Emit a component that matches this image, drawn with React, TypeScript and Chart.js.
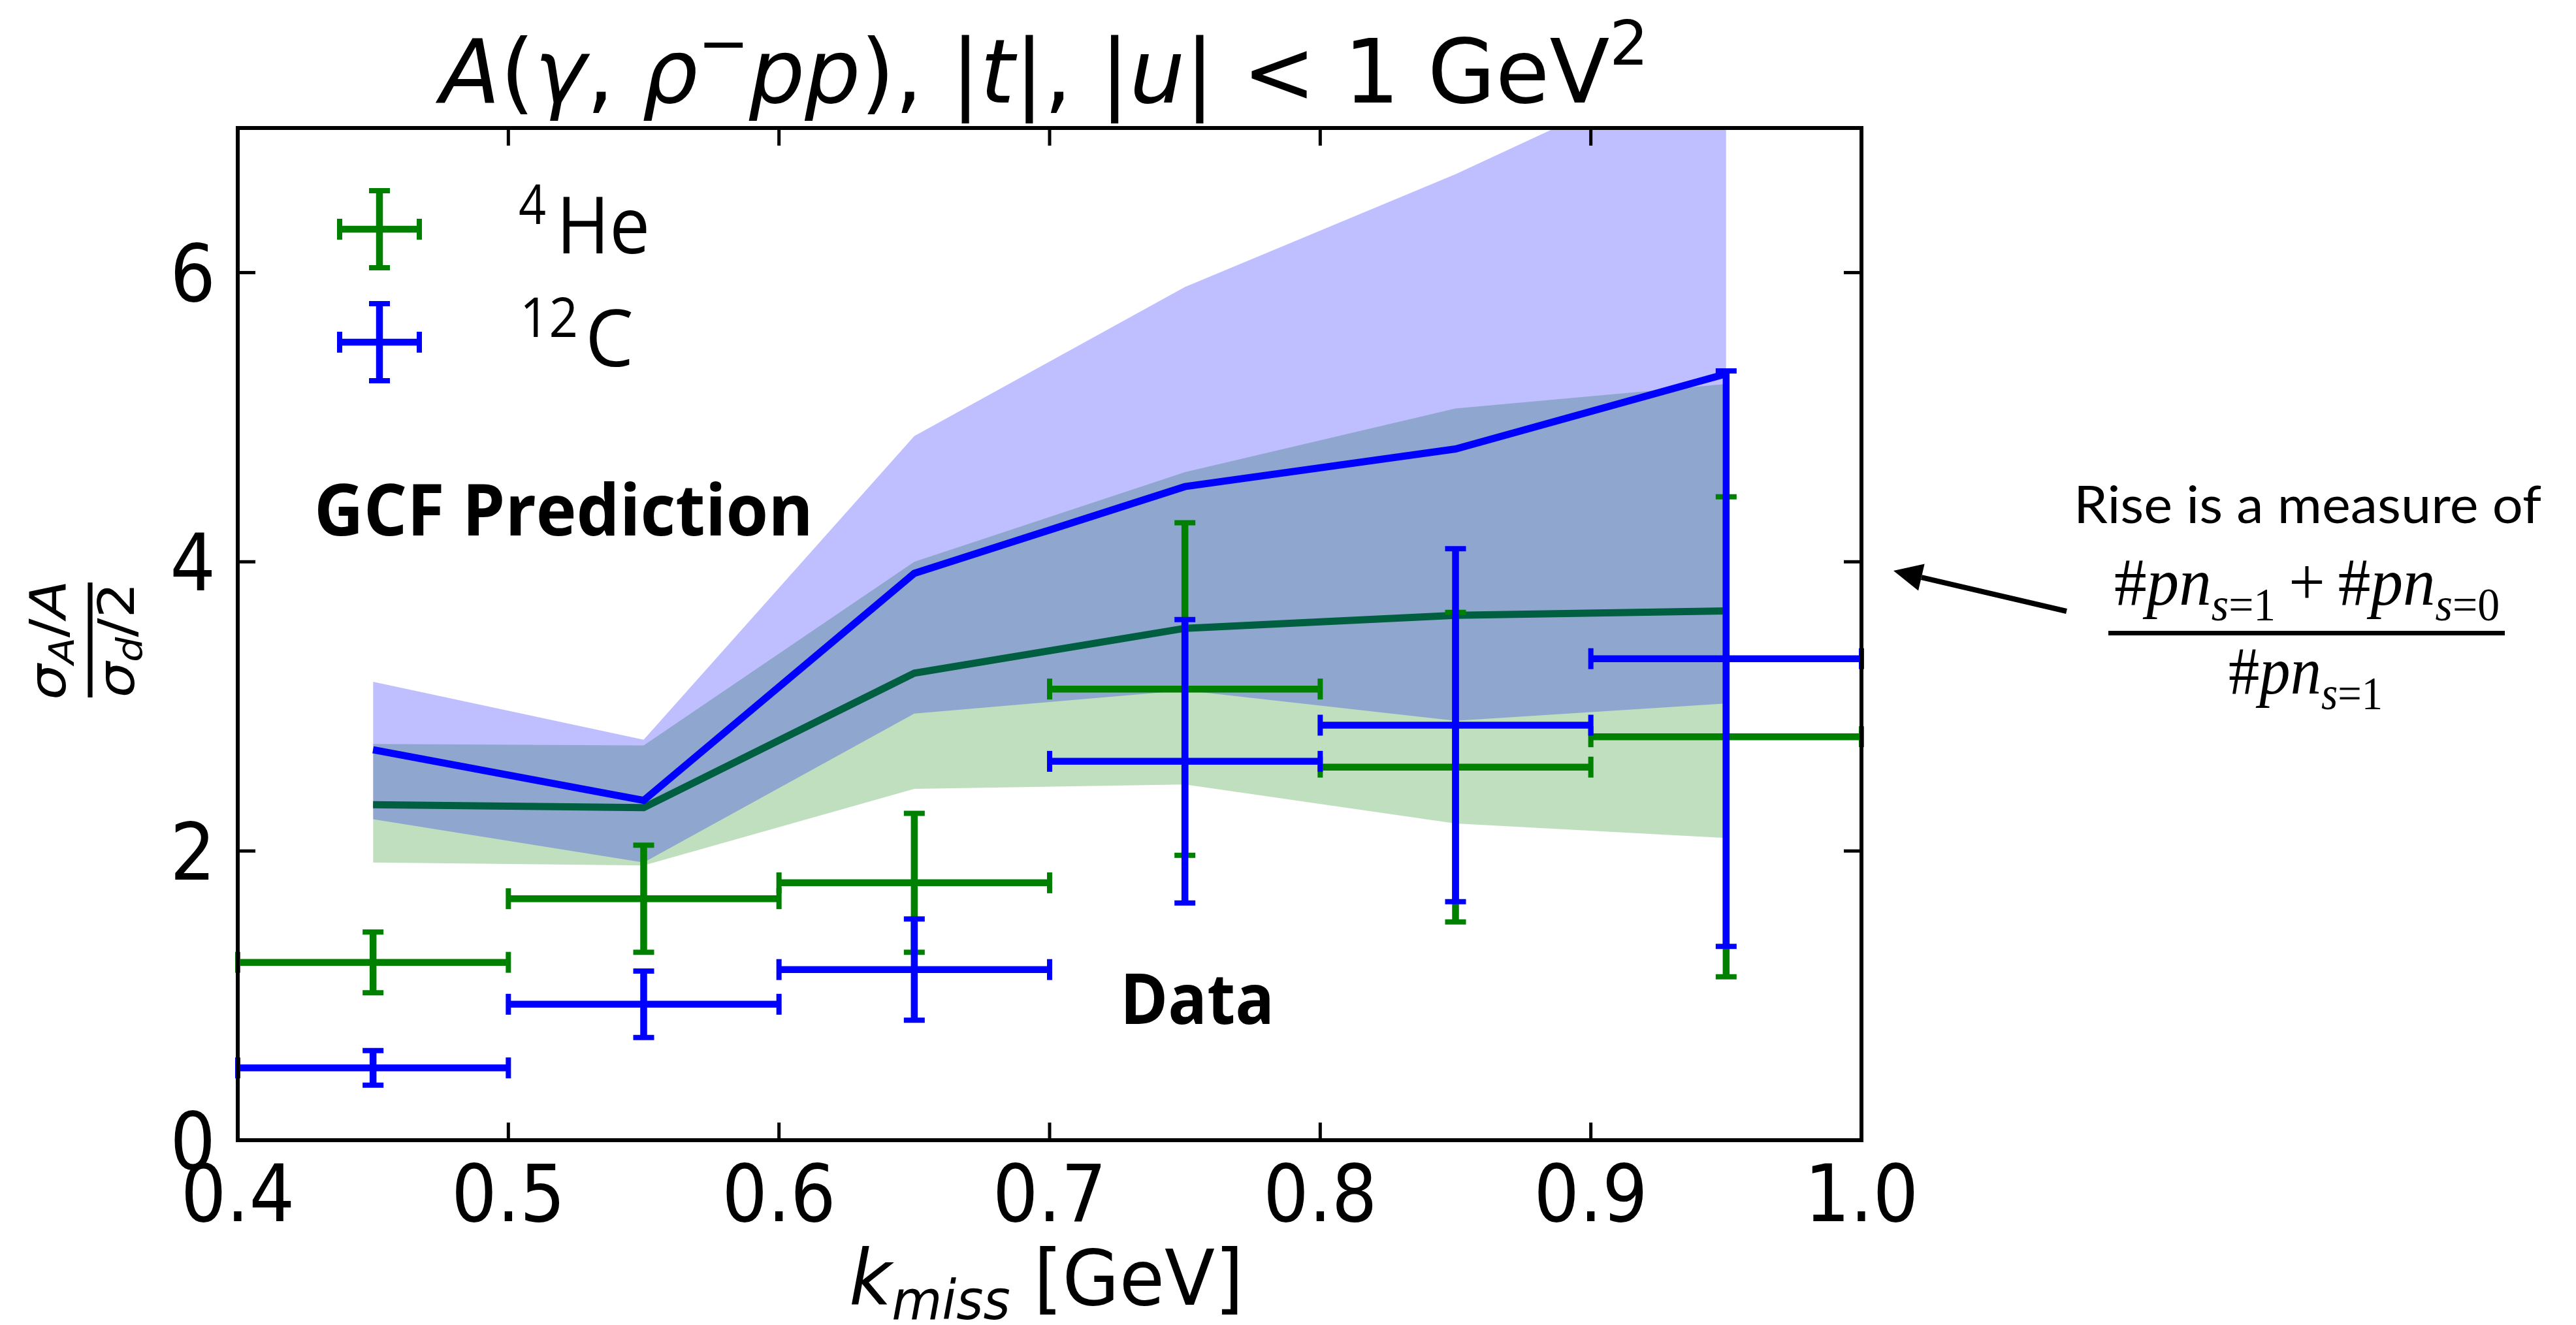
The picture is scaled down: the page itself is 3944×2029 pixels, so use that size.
import React, { useEffect, useRef } from 'react';
import { Chart, registerables } from 'chart.js';

Chart.register(...registerables);

const W = 3944;
const H = 2029;

// ---- data ----
const K_MISS = [0.45, 0.55, 0.65, 0.75, 0.85, 0.95];
const K_HALF_BIN = [0.05, 0.05, 0.05, 0.05, 0.05, 0.05];

const HE_DATA = [1.23, 1.67, 1.78, 3.12, 2.58, 2.79];
const HE_ERR = [0.21, 0.37, 0.48, 1.15, 1.07, 1.66];
const C_DATA = [0.5, 0.94, 1.18, 2.62, 2.87, 3.33];
const C_ERR = [0.12, 0.23, 0.35, 0.98, 1.22, 1.99];

const GCF_HE = [2.32, 2.3, 3.23, 3.54, 3.63, 3.66];
const GCF_HE_LOW = [1.92, 1.9, 2.43, 2.46, 2.19, 2.09];
const GCF_HE_HIGH = [2.74, 2.73, 4.0, 4.62, 5.06, 5.23];
const GCF_C = [2.7, 2.35, 3.92, 4.52, 4.78, 5.3];
const GCF_C_LOW = [2.22, 1.92, 2.95, 3.11, 2.9, 3.02];
const GCF_C_HIGH = [3.17, 2.77, 4.87, 5.9, 6.68, 7.55];

const X_TICKS = [0.4, 0.5, 0.6, 0.7, 0.8, 0.9, 1.0];
const Y_TICKS = [0, 2, 4, 6];

const HE_COLOR = '#008000';
const C_COLOR = '#0000ff';
const GCF_HE_COLOR = '#005f40';

type Run = { t: string; f: string; dy?: number };

function runsWidth(ctx: CanvasRenderingContext2D, runs: Run[]) {
  let w = 0;
  for (const r of runs) {
    ctx.font = r.f;
    w += ctx.measureText(r.t).width;
  }
  return w;
}

function drawRuns(
  ctx: CanvasRenderingContext2D,
  runs: Run[],
  x: number,
  y: number,
  opts: { align?: 'left' | 'center' | 'right'; width?: number; sx?: number } = {}
) {
  const w = runsWidth(ctx, runs);
  const sx = opts.width ? opts.width / w : opts.sx ?? 0.9;
  const total = w * sx;
  const align = opts.align || 'left';
  const start = align === 'center' ? x - total / 2 : align === 'right' ? x - total : x;
  ctx.save();
  ctx.translate(start, y);
  ctx.scale(sx, 1);
  ctx.textAlign = 'left';
  ctx.textBaseline = 'alphabetic';
  ctx.fillStyle = '#000';
  let cx = 0;
  for (const r of runs) {
    ctx.font = r.f;
    ctx.fillText(r.t, cx, r.dy || 0);
    cx += ctx.measureText(r.t).width;
  }
  ctx.restore();
}

function line(ctx: CanvasRenderingContext2D, x1: number, y1: number, x2: number, y2: number) {
  ctx.beginPath();
  ctx.moveTo(x1, y1);
  ctx.lineTo(x2, y2);
  ctx.stroke();
}

function errorGlyph(
  ctx: CanvasRenderingContext2D,
  color: string,
  px: number,
  py: number,
  xl: number,
  xr: number,
  yt: number,
  yb: number
) {
  ctx.save();
  ctx.strokeStyle = color;
  ctx.lineCap = 'butt';
  ctx.lineWidth = 10.5;
  line(ctx, xl, py, xr, py);
  line(ctx, px, yt, px, yb);
  ctx.lineWidth = 8;
  const c = 16;
  line(ctx, xl, py - c, xl, py + c);
  line(ctx, xr, py - c, xr, py + c);
  line(ctx, px - c, yt, px + c, yt);
  line(ctx, px - c, yb, px + c, yb);
  ctx.restore();
}

const decorPlugin = {
  id: 'decor',
  afterDatasetsDraw(chart: any) {
    const ctx: CanvasRenderingContext2D = chart.ctx;
    const xs = chart.scales.x;
    const ys = chart.scales.y;
    const series = [
      { idx: 6, vals: HE_DATA, err: HE_ERR, color: HE_COLOR },
      { idx: 7, vals: C_DATA, err: C_ERR, color: C_COLOR },
    ];
    for (const s of series) {
      const meta = chart.getDatasetMeta(s.idx);
      meta.data.forEach((pt: any, i: number) => {
        const xl = xs.getPixelForValue(K_MISS[i] - K_HALF_BIN[i]);
        const xr = xs.getPixelForValue(K_MISS[i] + K_HALF_BIN[i]);
        const yt = ys.getPixelForValue(s.vals[i] + s.err[i]);
        const yb = ys.getPixelForValue(s.vals[i] - s.err[i]);
        errorGlyph(ctx, s.color, pt.x, pt.y, xl, xr, yt, yb);
      });
    }
  },
  afterDraw(chart: any) {
    const ctx: CanvasRenderingContext2D = chart.ctx;
    const a = chart.chartArea;
    const xs = chart.scales.x;
    const ys = chart.scales.y;

    // ticks (inward, all four sides)
    ctx.save();
    ctx.strokeStyle = '#000';
    ctx.lineWidth = 5;
    const TL = 27;
    for (const t of xs.ticks) {
      const px = xs.getPixelForValue(t.value);
      line(ctx, px, a.bottom, px, a.bottom - TL);
      line(ctx, px, a.top, px, a.top + TL);
    }
    for (const t of ys.ticks) {
      const py = ys.getPixelForValue(t.value);
      line(ctx, a.left, py, a.left + TL, py);
      line(ctx, a.right, py, a.right - TL, py);
    }
    // spines
    ctx.lineWidth = 6;
    ctx.strokeRect(a.left, a.top, a.right - a.left, a.bottom - a.top);
    ctx.restore();

    // tick labels
    const TF = '122px "DejaVu Sans"';
    for (const t of xs.ticks) {
      const px = xs.getPixelForValue(t.value);
      drawRuns(ctx, [{ t: t.value.toFixed(1), f: TF }], px, a.bottom + 124, { align: 'center', sx: 0.9 });
    }
    for (const t of ys.ticks) {
      const py = ys.getPixelForValue(t.value);
      drawRuns(ctx, [{ t: String(t.value), f: TF }], a.left - 34, py + 44, { align: 'right', sx: 0.9 });
    }

    // title
    const T = 136;
    const ti = `italic ${T}px "DejaVu Sans"`;
    const tn = `${T}px "DejaVu Sans"`;
    const ts = `${Math.round(T * 0.7)}px "DejaVu Sans"`;
    drawRuns(
      ctx,
      [
        { t: 'A', f: ti },
        { t: '(', f: tn },
        { t: 'γ', f: ti },
        { t: ', ', f: tn },
        { t: 'ρ', f: ti },
        { t: '\u2212', f: ts, dy: -58 },
        { t: 'pp', f: ti },
        { t: '), ', f: tn },
        { t: '|', f: tn },
        { t: 't', f: ti },
        { t: '|, ', f: tn },
        { t: '|', f: tn },
        { t: 'u', f: ti },
        { t: '| < 1 GeV', f: tn },
        { t: '2', f: ts, dy: -58 },
      ],
      674,
      157,
      { width: 1850 }
    );

    // x label
    const XL = 118;
    drawRuns(
      ctx,
      [
        { t: 'k', f: `italic ${XL}px "DejaVu Sans"` },
        { t: 'miss', f: `italic ${Math.round(XL * 0.7)}px "DejaVu Sans"`, dy: 22 },
        { t: ' [GeV]', f: `${XL}px "DejaVu Sans"` },
      ],
      1300,
      1998,
      { width: 604 }
    );

    // y label (rotated fraction)
    ctx.save();
    ctx.translate(138, 980);
    ctx.rotate(-Math.PI / 2);
    ctx.scale(1, 0.9);
    const YF = 86;
    const yi = `italic ${YF}px "DejaVu Sans"`;
    const yn = `${YF}px "DejaVu Sans"`;
    const ysub = `italic ${Math.round(YF * 0.7)}px "DejaVu Sans"`;
    drawRuns(ctx, [{ t: 'σ', f: yi }, { t: 'A', f: ysub, dy: 14 }, { t: '/', f: yn }, { t: 'A', f: yi }], 0, -42, {
      align: 'center',
      sx: 1,
    });
    drawRuns(ctx, [{ t: 'σ', f: yi }, { t: 'd', f: ysub, dy: 14 }, { t: '/2', f: yn }], 0, 74, {
      align: 'center',
      sx: 1,
    });
    ctx.fillStyle = '#000';
    ctx.fillRect(-88, -4, 176, 8);
    ctx.restore();

    // legend
    const legend = [
      { color: HE_COLOR, cy: 351, sup: '4', txt: 'He', supX: 794, txtX: 852, supW: 42, txtW: 143 },
      { color: C_COLOR, cy: 524, sup: '12', txt: 'C', supX: 796, txtX: 896, supW: 89, txtW: 74 },
    ];
    for (const l of legend) {
      errorGlyph(ctx, l.color, 581, l.cy, 520, 642, l.cy - 59, l.cy + 59);
      drawRuns(ctx, [{ t: l.sup, f: '84px "Open Sans"' }], l.supX, l.cy - 8, { width: l.supW });
      drawRuns(ctx, [{ t: l.txt, f: '120px "Open Sans"' }], l.txtX, l.cy + 37, { width: l.txtW });
    }

    // in-plot labels
    drawRuns(ctx, [{ t: 'GCF Prediction', f: 'bold 110px "Open Sans"' }], 481, 820, { width: 764 });
    drawRuns(ctx, [{ t: 'Data', f: 'bold 108px "Open Sans"' }], 1715, 1568, { width: 236 });

    // annotation on the right
    drawRuns(ctx, [{ t: 'Rise is a measure of', f: '80px Lato' }], 3533, 801, { align: 'center', width: 716 });
    const NF = 104;
    const ni = `italic ${NF}px "Liberation Serif"`;
    const nn = `${NF}px "Liberation Serif"`;
    const si = `italic ${Math.round(NF * 0.68)}px "Liberation Serif"`;
    const sn = `${Math.round(NF * 0.68)}px "Liberation Serif"`;
    drawRuns(
      ctx,
      [
        { t: '#', f: nn },
        { t: 'pn', f: ni },
        { t: 's', f: si, dy: 24 },
        { t: '=1', f: sn, dy: 24 },
        { t: '\u2009+\u2009', f: nn },
        { t: '#', f: nn },
        { t: 'pn', f: ni },
        { t: 's', f: si, dy: 24 },
        { t: '=0', f: sn, dy: 24 },
      ],
      3237,
      926,
      { width: 590 }
    );
    ctx.fillStyle = '#000';
    ctx.fillRect(3228, 966, 607, 7);
    drawRuns(
      ctx,
      [
        { t: '#', f: nn },
        { t: 'pn', f: ni },
        { t: 's', f: si, dy: 24 },
        { t: '=1', f: sn, dy: 24 },
      ],
      3412,
      1062,
      { width: 236 }
    );

    // arrow
    ctx.save();
    ctx.strokeStyle = '#000';
    ctx.fillStyle = '#000';
    ctx.lineWidth = 8;
    const tx = 3164, ty = 936, hx = 2899, hy = 874;
    const ang = Math.atan2(hy - ty, hx - tx);
    const HL = 44, HW = 21;
    const bx = hx - HL * Math.cos(ang), by = hy - HL * Math.sin(ang);
    line(ctx, tx, ty, bx, by);
    ctx.beginPath();
    ctx.moveTo(hx, hy);
    ctx.lineTo(bx + HW * Math.sin(ang), by - HW * Math.cos(ang));
    ctx.lineTo(bx - HW * Math.sin(ang), by + HW * Math.cos(ang));
    ctx.closePath();
    ctx.fill();
    ctx.restore();
  },
};

export default function App() {
  const ref = useRef<HTMLCanvasElement>(null);
  useEffect(() => {
    const canvas = ref.current;
    if (!canvas) return;
    const pts = (vals: number[]) => K_MISS.map((x, i) => ({ x, y: vals[i] }));
    const band = (vals: number[], fill: any, bg: string, order: number) => ({
      data: pts(vals),
      borderWidth: 0,
      borderColor: 'rgba(0,0,0,0)',
      backgroundColor: bg,
      pointRadius: 0,
      fill,
      order,
      tension: 0,
    });
    const chart = new Chart(canvas, {
      type: 'line',
      data: {
        datasets: [
          band(GCF_HE_HIGH, '+1', 'rgba(0,128,0,0.25)', 10) as any,
          band(GCF_HE_LOW, false, 'rgba(0,0,0,0)', 10) as any,
          band(GCF_C_HIGH, '+1', 'rgba(0,0,255,0.25)', 9) as any,
          band(GCF_C_LOW, false, 'rgba(0,0,0,0)', 9) as any,
          {
            data: pts(GCF_HE),
            borderColor: GCF_HE_COLOR,
            borderWidth: 11,
            pointRadius: 0,
            fill: false,
            order: 5,
            tension: 0,
          },
          {
            data: pts(GCF_C),
            borderColor: C_COLOR,
            borderWidth: 11,
            pointRadius: 0,
            fill: false,
            order: 4,
            tension: 0,
          },
          { data: pts(HE_DATA), showLine: false, pointRadius: 0, order: 2, borderColor: HE_COLOR },
          { data: pts(C_DATA), showLine: false, pointRadius: 0, order: 1, borderColor: C_COLOR },
        ],
      },
      options: {
        responsive: false,
        animation: false,
        devicePixelRatio: 1,
        events: [],
        layout: { padding: { left: 0, top: 196, right: W - 2850, bottom: 0 } },
        plugins: { legend: { display: false }, tooltip: { enabled: false } },
        scales: {
          x: {
            type: 'linear',
            min: 0.4,
            max: 1.0,
            grid: { display: false, drawTicks: false },
            border: { display: false },
            ticks: { display: false },
            afterBuildTicks: (s: any) => {
              s.ticks = X_TICKS.map((v) => ({ value: v }));
            },
            afterFit: (s: any) => {
              s.height = H - 1746;
            },
          },
          y: {
            type: 'linear',
            min: 0,
            max: 7,
            grid: { display: false, drawTicks: false },
            border: { display: false },
            ticks: { display: false },
            afterBuildTicks: (s: any) => {
              s.ticks = Y_TICKS.map((v) => ({ value: v }));
            },
            afterFit: (s: any) => {
              s.width = 364;
            },
          },
        },
      } as any,
      plugins: [decorPlugin],
    });
    return () => chart.destroy();
  }, []);
  return (
    <div style={{ position: 'absolute', left: 0, top: 0, width: W, height: H, background: '#fff' }}>
      <canvas ref={ref} width={W} height={H} style={{ display: 'block', width: W, height: H }} />
    </div>
  );
}
